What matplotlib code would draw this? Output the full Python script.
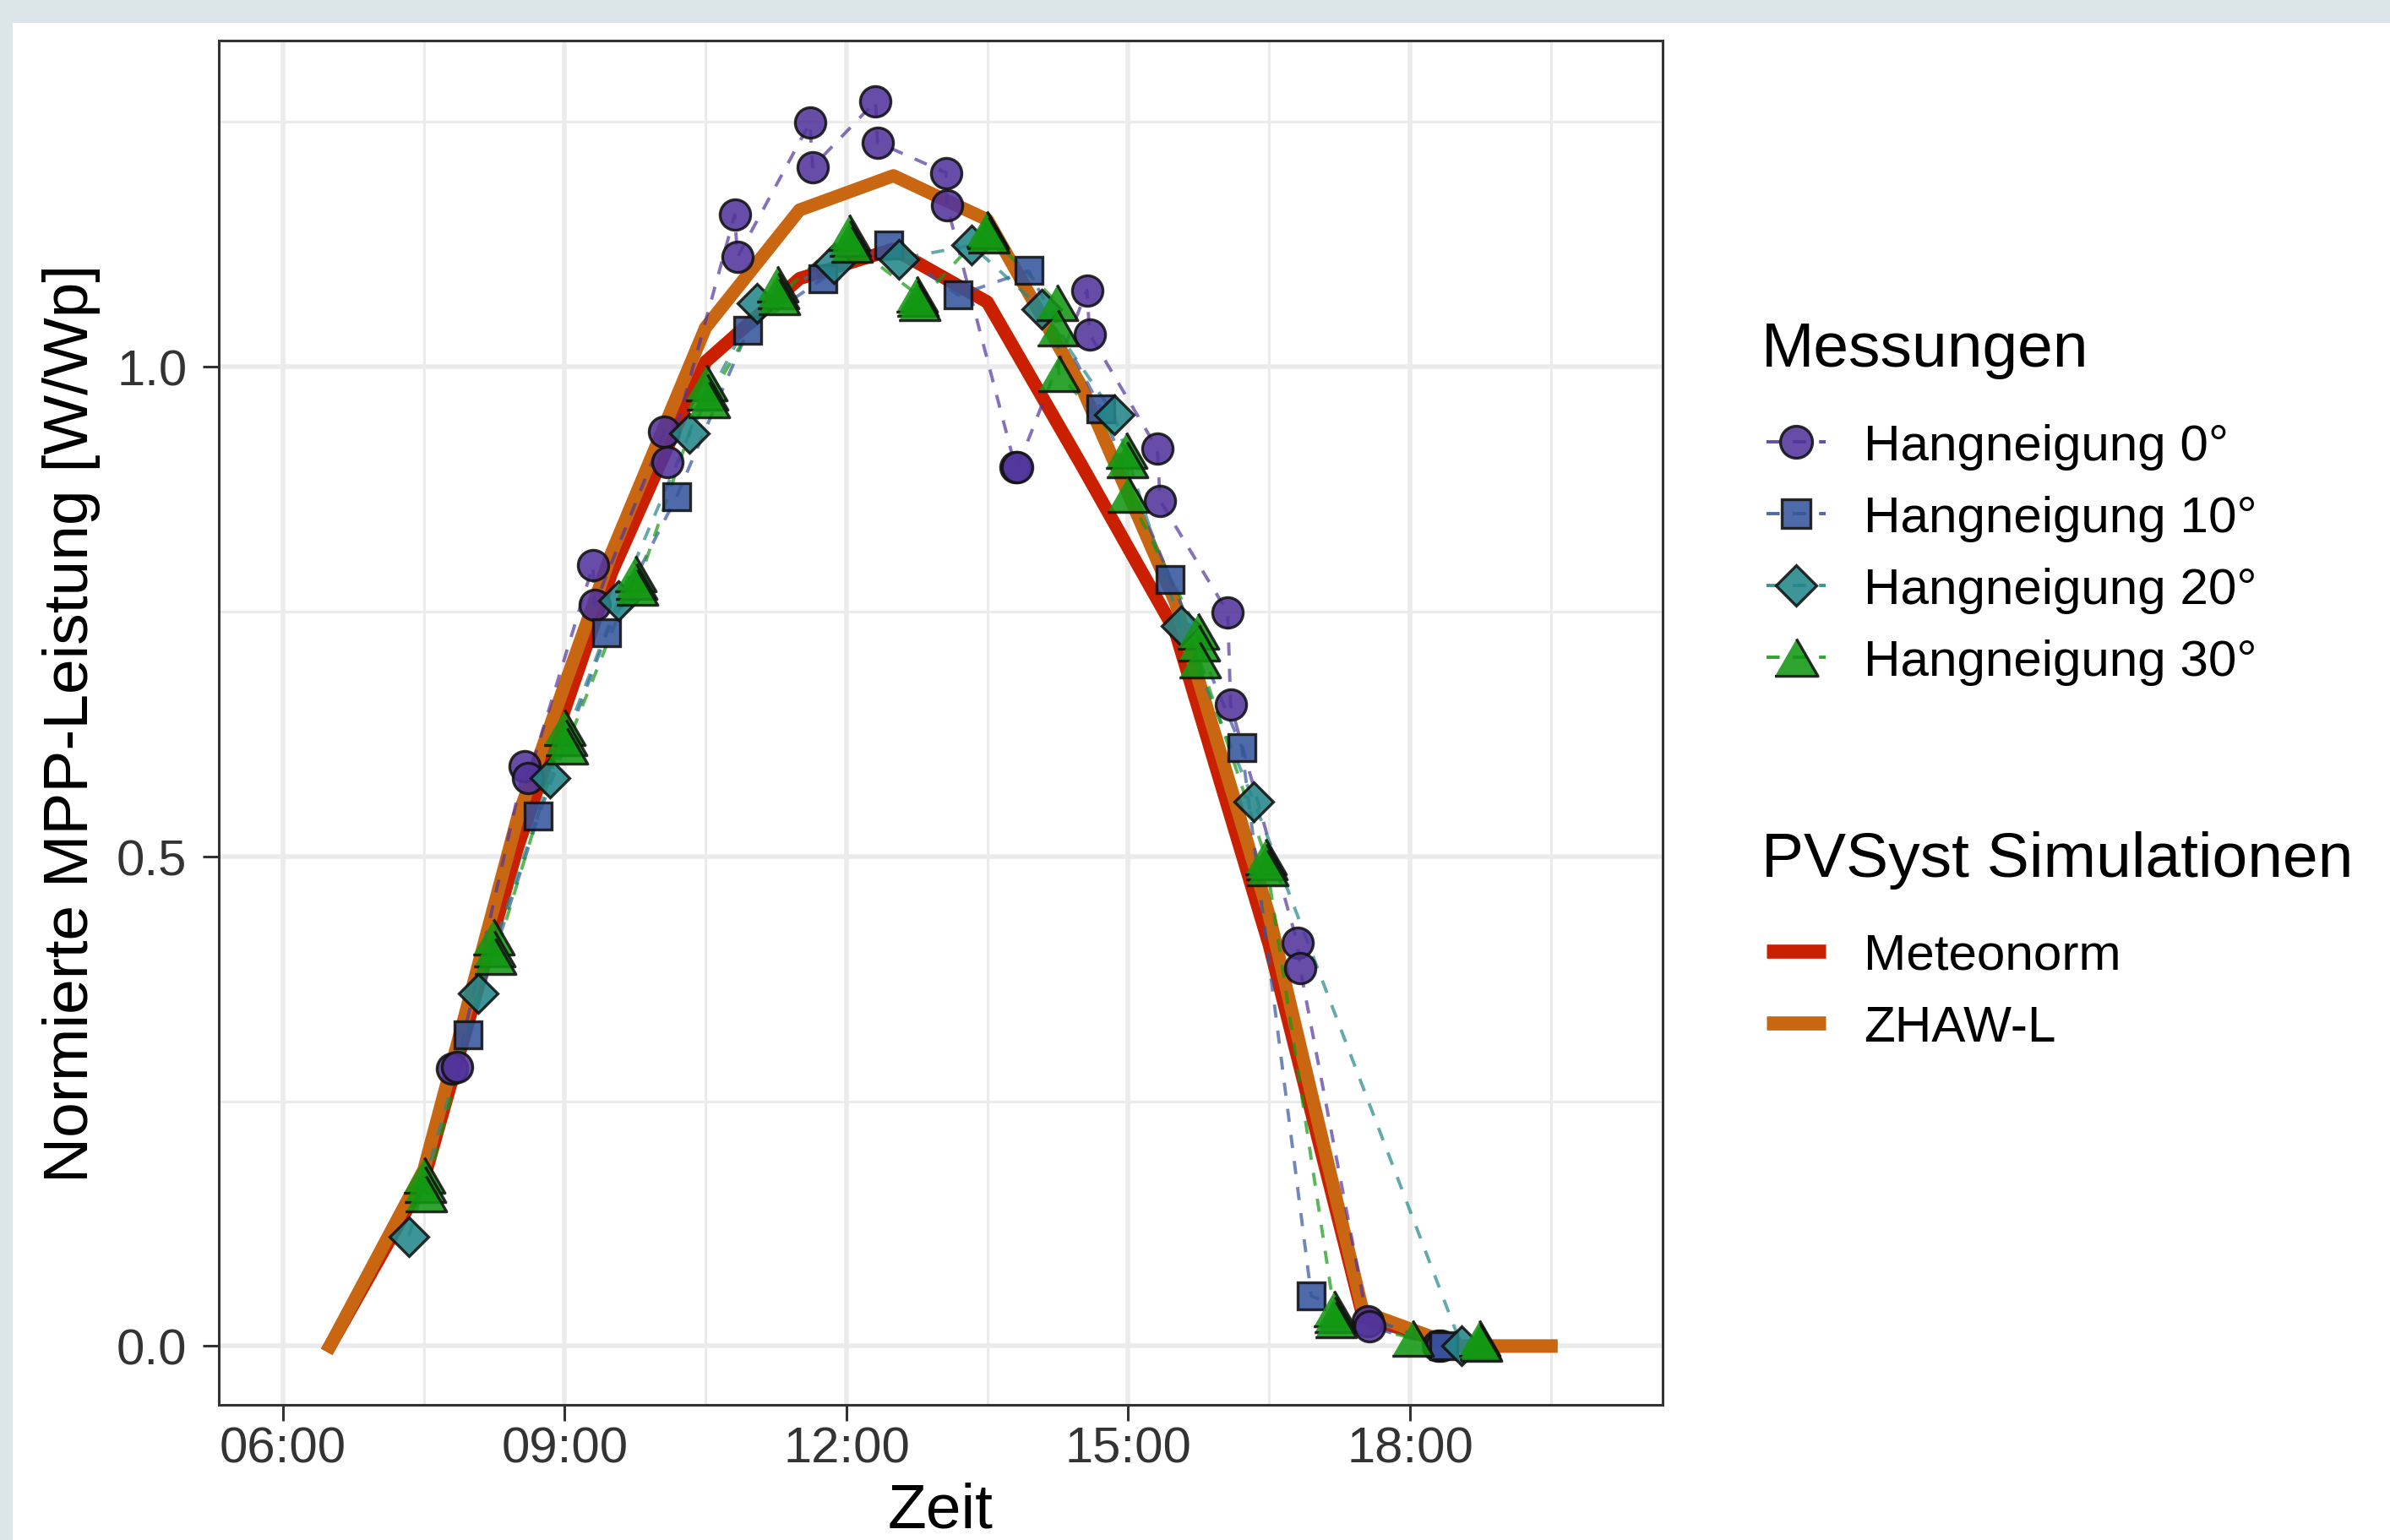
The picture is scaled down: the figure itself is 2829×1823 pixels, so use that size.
import matplotlib
matplotlib.use("Agg")
import matplotlib.pyplot as plt
from matplotlib.lines import Line2D
from matplotlib.patches import Rectangle
from matplotlib.ticker import FixedLocator, FixedFormatter

plt.rcParams['font.family'] = ['Liberation Sans', 'DejaVu Sans']

# ---------------- data (time in decimal hours) ----------------
sim_time = [6.5, 7.5, 8.5, 9.5, 10.5, 11.5, 12.5, 13.5, 14.5, 15.5, 16.5, 17.5, 18.5, 19.5]
meteonorm = [0.0, 0.17, 0.51, 0.79, 1.005, 1.09, 1.12, 1.066, 0.90, 0.73, 0.41, 0.03, 0.0, 0.0]
zhaw_l = [0.0, 0.18, 0.54, 0.81, 1.04, 1.16, 1.195, 1.15, 0.98, 0.76, 0.44, 0.035, 0.0, 0.0]

t_0 = [7.80, 7.85, 8.57, 8.61, 9.30, 9.32, 10.06, 10.09, 10.81, 10.84, 11.61, 11.64,
       12.31, 12.33, 13.06, 13.07, 13.80, 13.82, 14.56, 14.59, 15.31, 15.34, 16.06, 16.09,
       16.80, 16.83, 17.55, 17.57, 18.30, 18.33]
p_0 = [0.283, 0.285, 0.592, 0.580, 0.797, 0.757, 0.934, 0.903, 1.155, 1.112, 1.249, 1.204,
       1.271, 1.229, 1.198, 1.165, 0.897, 0.897, 1.078, 1.033, 0.916, 0.863, 0.749, 0.655,
       0.412, 0.386, 0.025, 0.020, 0.0, 0.0]

t_10 = [7.97, 8.72, 9.45, 10.19, 10.95, 11.75, 12.45, 13.19, 13.94, 14.71, 15.45, 16.21, 16.95, 18.36]
p_10 = [0.318, 0.541, 0.728, 0.867, 1.037, 1.090, 1.124, 1.073, 1.098, 0.957, 0.783, 0.611, 0.051, 0.0]

t_20 = [7.34, 8.08, 8.84, 9.57, 10.33, 11.05, 11.87, 12.56, 13.33, 14.08, 14.85, 15.56, 16.34, 18.55]
p_20 = [0.112, 0.360, 0.580, 0.761, 0.932, 1.065, 1.105, 1.110, 1.124, 1.059, 0.951, 0.735, 0.556, 0.0]

t_30 = [7.50, 7.51, 7.52, 8.24, 8.25, 8.26, 9.00, 9.01, 9.02, 9.75, 9.76, 9.77,
        10.51, 10.52, 10.53, 11.26, 11.27, 11.28, 12.03, 12.04, 12.05, 12.75, 12.76, 12.77,
        13.49, 13.50, 13.51, 14.24, 14.25, 14.26, 14.98, 14.99, 15.00, 15.74, 15.75, 15.76,
        16.46, 16.47, 16.48, 17.19, 17.20, 17.21, 18.03, 18.74, 18.75, 18.76]
p_30 = [0.175, 0.165, 0.156, 0.418, 0.406, 0.398, 0.632, 0.621, 0.613, 0.789, 0.781, 0.775,
        0.984, 0.974, 0.966, 1.085, 1.078, 1.072, 1.137, 1.131, 1.125, 1.074, 1.070, 1.066,
        1.141, 1.139, 1.135, 1.066, 1.040, 0.993, 0.915, 0.905, 0.870, 0.730, 0.718, 0.701,
        0.500, 0.495, 0.489, 0.038, 0.032, 0.027, 0.008, 0.008, 0.005, 0.003]

x_ticks = [6, 9, 12, 15, 18]
x_tick_labels = ["06:00", "09:00", "12:00", "15:00", "18:00"]
x_minor = [7.5, 10.5, 13.5, 16.5, 19.5]
y_ticks = [0.0, 0.5, 1.0]
y_tick_labels = ["0.0", "0.5", "1.0"]
y_minor = [0.25, 0.75, 1.25]

series_labels = ["Hangneigung 0°", "Hangneigung 10°", "Hangneigung 20°", "Hangneigung 30°"]
sim_labels = ["Meteonorm", "ZHAW-L"]

# ---------------- styling ----------------
W, H, DPI = 2829, 1824, 200
BG = '#DCE6E9'
C_PURPLE = '#52349C'
C_BLUE = '#35559C'
C_TEAL = '#23878A'
C_GREEN = '#139813'
C_RED = '#CA2000'
C_ORANGE = '#C96612'
TRI = [(-1, -0.866), (1, -0.866), (0, 0.866)]

fig = plt.figure(figsize=(W / DPI, H / DPI), dpi=DPI, facecolor=BG)
fig.patches.append(Rectangle((15 / W, 0), 1 - 15 / W, 1 - 28 / H, transform=fig.transFigure,
                             facecolor='white', edgecolor='none', zorder=-10))

ax = fig.add_axes([259 / W, 1 - 1664 / H, (1968 - 259) / W, (1664 - 49) / H])
ax.set_zorder(1)
ax.set_facecolor('white')
ax.set_xlim(5.317, 20.69)
ax.set_ylim(-0.060, 1.333)

ax.xaxis.set_major_locator(FixedLocator(x_ticks))
ax.xaxis.set_major_formatter(FixedFormatter(x_tick_labels))
ax.xaxis.set_minor_locator(FixedLocator(x_minor))
ax.yaxis.set_major_locator(FixedLocator(y_ticks))
ax.yaxis.set_major_formatter(FixedFormatter(y_tick_labels))
ax.yaxis.set_minor_locator(FixedLocator(y_minor))

ax.grid(which='major', color='#EBEBEB', linewidth=2.0, zorder=0)
ax.grid(which='minor', color='#EBEBEB', linewidth=1.1, zorder=0)
ax.set_axisbelow(True)
for s in ax.spines.values():
    s.set_color('#333333')
    s.set_linewidth(1.1)
ax.tick_params(which='major', length=7, width=1.1, color='#333333', labelsize=21.5,
               labelcolor='#333333')
ax.tick_params(axis='x', which='major', pad=2)
ax.tick_params(axis='y', which='major', pad=6.5)
ax.tick_params(which='minor', length=0)

# simulation lines
ax.plot(sim_time, meteonorm, color=C_RED, lw=5.6, solid_joinstyle='round', zorder=2)
ax.plot(sim_time, zhaw_l, color=C_ORANGE, lw=5.6, solid_joinstyle='round', zorder=2.1)

# measurements: dashed connecting lines + markers
meas = [
    (t_0, p_0, C_PURPLE, 'o', 13.0),
    (t_10, p_10, C_BLUE, 's', 11.8),
    (t_20, p_20, C_TEAL, 'D', 11.6),
    (t_30, p_30, C_GREEN, TRI, 17.5),
]
for t, p, c, m, ms in meas:
    ax.plot(t, p, color=c, lw=1.4, ls=(0, (4, 4)), alpha=0.7, zorder=3)
for i, (t, p, c, m, ms) in enumerate(meas):
    ax.plot(t, p, ls='none', marker=m, markersize=ms, markerfacecolor=c,
            markeredgecolor='#111111', markeredgewidth=1.2, alpha=0.88, zorder=4 + i * 0.1)

# axis titles
fig.text(85 / W, 1 - 856 / H, "Normierte MPP-Leistung [W/Wp]", rotation=90,
         ha='center', va='center', fontsize=27, color='black')
fig.text(1113 / W, 0.0005, "Zeit", ha='center', va='bottom', fontsize=27, color='black')

# legends
fig.text(2085 / W, 1 - 434 / H, "Messungen", ha='left', va='baseline', fontsize=27)
fig.text(2085 / W, 1 - 1038 / H, "PVSyst Simulationen", ha='left', va='baseline', fontsize=27)

h1 = []
for (t, p, c, m, ms) in meas:
    h1.append(Line2D([], [], color=c, lw=1.4, ls=(0, (4, 4)), marker=m, markersize=ms * 1.05,
                     markerfacecolor=c, markeredgecolor='#111111', markeredgewidth=1.2,
                     alpha=0.88))
leg1 = fig.legend(h1, series_labels, loc='upper left', bbox_to_anchor=(2091 / W, 1 - 502 / H),
                  frameon=False, borderpad=0, borderaxespad=0, handlelength=1.16,
                  handletextpad=0.75, labelspacing=0.50, fontsize=21.7, numpoints=1)
h2 = [Line2D([], [], color=C_RED, lw=6.0, solid_capstyle='butt'),
      Line2D([], [], color=C_ORANGE, lw=6.0, solid_capstyle='butt')]
leg2 = fig.legend(h2, sim_labels, loc='upper left', bbox_to_anchor=(2091 / W, 1 - 1105 / H),
                  frameon=False, borderpad=0, borderaxespad=0, handlelength=1.16,
                  handletextpad=0.75, labelspacing=0.50, fontsize=21.7)

fig.savefig("out.png", dpi=DPI, facecolor=BG)
